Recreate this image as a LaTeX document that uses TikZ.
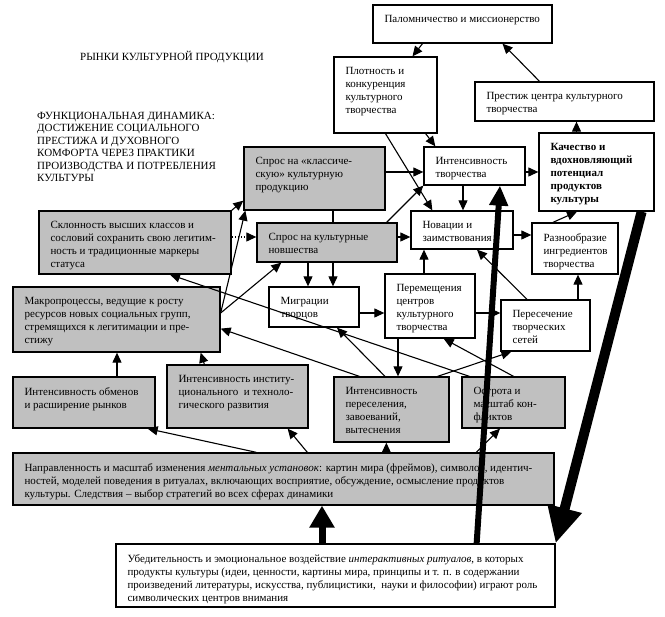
\documentclass[tikz,border=0pt]{standalone}
\usepackage{fontspec}
\setmainfont{Liberation Serif}
\usetikzlibrary{arrows.meta, backgrounds, fit, positioning}
\definecolor{BoxGray}{RGB}{192,192,192}

\begin{document}
\begin{tikzpicture}[x = 1pt, y = -1pt]%
    %
    \tikzstyle{box} = [draw = black, line width = 1.3pt, inner sep = 0pt, fill = white]%
    \tikzstyle{graybox} = [box, fill = BoxGray]%
    \tikzstyle{txt} = [align = left, inner sep = 0pt, anchor = north west, font = \fontsize{11}{13}\selectfont]%
    \tikzstyle{heading} = [align = left, inner sep = 0pt, font = \fontsize{11}{12.5}\selectfont]%
    \tikzstyle{arrow} = [-{Triangle[length = 10pt, width = 9pt]}, line width = 1.1pt, draw = black]%
    \tikzstyle{dottedarrow} = [arrow, dotted]%
    \tikzstyle{heavyarrow} = [line width = 7pt, draw = black]%
    %
    \def\cbox[#1](#2)(#3)(#4)#5{% Syntax: [style] (name) (north west) (south east) {text}
        \node [#1, fit = {(#3) (#4)}] (#2) {};%
        \node [txt] at ([xshift = 12pt, yshift = -11pt]#2.north west) {#5};%
    }%
    %
    \useasboundingbox (0, 0) rectangle (665, 617);%
    %
    \node [heading, anchor = center] (title) at (172, 57) {РЫНКИ КУЛЬТУРНОЙ ПРОДУКЦИИ};%
    \node [heading, anchor = north west] (func) at (37, 112) {ФУНКЦИОНАЛЬНАЯ ДИНАМИКА:\\ДОСТИЖЕНИЕ СОЦИАЛЬНОГО\\ПРЕСТИЖА И ДУХОВНОГО\\КОМФОРТА ЧЕРЕЗ ПРАКТИКИ\\ПРОИЗВОДСТВА И ПОТРЕБЛЕНИЯ\\КУЛЬТУРЫ};%
    %
    \cbox[box](pal)(373, 5)(552, 43){Паломничество и миссионерство}%
    \cbox[box](plot)(334, 57)(437, 133){Плотность и\\конкуренция\\культурного\\творчества}%
    \cbox[box](prest)(475, 82)(654, 121){Престиж центра культурного\\творчества}%
    \cbox[box](intc)(424, 147)(525, 185){Интенсивность\\творчества}%
    \cbox[box](kach)(539, 133)(654, 211){\textbf{Качество и}\\\textbf{вдохновляющий}\\\textbf{потенциал}\\\textbf{продуктов}\\\textbf{культуры}}%
    \cbox[graybox](sclass)(244, 147)(385, 210){Спрос на «классиче-\\скую» культурную\\продукцию}%
    \cbox[graybox](skl)(39, 211)(231, 274){Склонность высших классов и\\сословий сохранить свою легитим-\\ность и традиционные маркеры\\статуса}%
    \cbox[graybox](snov)(257, 223)(397, 262){Спрос на культурные\\новшества}%
    \cbox[box](nov)(411, 211)(513, 249){Новации и\\заимствования}%
    \cbox[box](razn)(532, 223)(618, 274){Разнообразие\\ингредиентов\\творчества}%
    \cbox[graybox](macro)(13, 287)(220, 352){Макропроцессы, ведущие к росту\\ресурсов новых социальных групп,\\стремящихся к легитимации и пре-\\стижу}%
    \cbox[box](migr)(269, 287)(359, 327){Миграции\\творцов}%
    \cbox[box](perem)(385, 274)(475, 338){Перемещения\\центров\\культурного\\творчества}%
    \cbox[box](peres)(501, 300)(590, 351){Пересечение\\творческих\\сетей}%
    \cbox[graybox](obm)(13, 377)(155, 428){Интенсивность обменов\\и расширение рынков}%
    \cbox[graybox](inst)(167, 365)(308, 428){Интенсивность институ-\\ционального\ \ и техноло-\\гического развития}%
    \cbox[graybox](pers)(334, 377)(449, 442){Интенсивность\\переселения,\\завоеваний,\\вытеснения}%
    \cbox[graybox](ostr)(462, 377)(565, 428){Острота и\\масштаб кон-\\фликтов}%
    \cbox[graybox](napr)(13, 453)(554, 505){Направленность и масштаб изменения \textit{ментальных установок}: картин мира (фреймов), символов, идентич-\\ностей, моделей поведения в ритуалах, включающих восприятие, обсуждение, осмысление продуктов\\культуры. Следствия -- выбор стратегий во всех сферах динамики}%
    \cbox[box](ubed)(116, 544)(555, 607){Убедительность и эмоциональное воздействие \textit{интерактивных ритуалов}, в которых\\продукты культуры (идеи, ценности, картины мира, принципы и т. п. в содержании\\произведений литературы, искусства, публицистики,\ \ науки и философии) играют роль\\символических центров внимания}%
    %
    \begin{scope}[on background layer]%
        \draw [arrow] ([xshift = -40pt]pal.south) -- ([xshift = 27pt]plot.north);%
        \draw [arrow] ([xshift = -25pt]prest.north) -- ([xshift = 40pt]pal.south);%
        \draw [arrow] ([xshift = -20pt]kach.north) -- ([xshift = -20pt]kach.north |- prest.south);%
        \draw [arrow] ([xshift = -12pt]plot.south east) -- ([xshift = 12pt]intc.north west);%
        \draw [arrow] (plot.south) -- ([xshift = 22pt]nov.north west);%
        \draw [arrow] ([yshift = 6.5pt]sclass.east) -- ([yshift = 6.5pt]sclass.east -| intc.west);%
        \draw [arrow] ([xshift = -11.5pt]intc.south) -- ([xshift = -11.5pt]intc.south |- nov.north);%
        \draw [arrow] ([yshift = -6pt]intc.east) -- ([yshift = -6pt]intc.east -| kach.west);%
        \draw [arrow] ([xshift = -11pt]snov.north east) -- (intc.south west);%
        \draw [arrow] ([xshift = 18.5pt]sclass.south) -- ([xshift = 18.5pt]sclass.south |- migr.north);%
        \draw [arrow] ([xshift = -19pt]snov.south) -- ([xshift = -19pt]snov.south |- migr.north);%
        \draw [arrow] ([yshift = 5.5pt]snov.east) -- ([yshift = 5.5pt]snov.east -| nov.west);%
        \draw [dottedarrow] ([yshift = 5.5pt]skl.east) -- ([yshift = 5.5pt]skl.east -| snov.west);%
        \draw [arrow] (skl.north east) -- ([yshift = 10pt]sclass.south west);%
        \draw [arrow] ([yshift = 6.5pt]macro.east) -- ([xshift = 2pt]sclass.south west);%
        \draw [arrow] ([yshift = 6.5pt]macro.east) -- ([xshift = 25pt]snov.south west);%
        \draw [arrow] ([yshift = -6pt]migr.east) -- ([yshift = -6pt]migr.east -| perem.west);%
        \draw [arrow] ([xshift = -6pt]perem.north) -- ([xshift = -6pt]perem.north |- nov.south);%
        \draw [arrow] ([yshift = -7pt]perem.east) -- ([yshift = -7pt]perem.east -| peres.west);%
        \draw [arrow] ([xshift = -18.5pt]peres.north) -- ([xshift = 15pt]nov.south);%
        \draw [arrow] ([xshift = 32.5pt]peres.north) -- ([xshift = 32.5pt]peres.north |- razn.south);%
        \draw [arrow] ([yshift = -5pt]nov.east) -- ([yshift = -5pt]nov.east -| razn.west);%
        \draw [arrow] ([xshift = -22pt]razn.north) -- ([xshift = -19.5pt]kach.south);%
        \draw [arrow] ([xshift = -32pt]perem.south) -- ([xshift = -32pt]perem.south |- pers.north);%
        \draw [arrow] ([xshift = -6.5pt]pers.north) -- ([xshift = 23pt]migr.south);%
        \draw [arrow] ([xshift = 26pt]pers.north west) -- ([yshift = 24pt]macro.south east);%
        \draw [arrow] ([xshift = -12pt]pers.north east) -- ([xshift = 11pt]peres.south west);%
        \draw [arrow] (ostr.north) -- ([xshift = -32pt]perem.south east);%
        \draw [arrow] ([xshift = 33pt]obm.north) -- ([xshift = 33pt]obm.north |- macro.south);%
        \draw [arrow] ([xshift = 38pt]inst.north west) -- ([xshift = -20pt]macro.south east);%
        \draw [arrow] ([xshift = 244pt]napr.north west) -- ([xshift = -8pt]obm.south east);%
        \draw [arrow] ([xshift = 295pt]napr.north west) -- ([xshift = -21pt]inst.south east);%
        \draw [arrow] ([xshift = 374pt]napr.north west) -- ([xshift = 374pt]napr.north west |- pers.south);%
        \draw [arrow] ([xshift = 464pt]napr.north west) -- ([xshift = -13.5pt]ostr.south);%
    \end{scope}%
    %
    \draw [arrow] ([xshift = 8pt]ostr.north west) -- ([xshift = 35pt]skl.south);%
    %
    \draw [heavyarrow, -{Triangle[length = 22pt, width = 24pt]}] ([xshift = -13.5pt]ubed.north) -- ([xshift = -13.5pt]ubed.north |- napr.south);%
    \draw [heavyarrow, line width = 6pt, -{Triangle[length = 20pt, width = 18pt]}] ([xshift = -79pt]ubed.north east) -- ([xshift = 25.5pt]intc.south);%
    \draw [heavyarrow, line width = 10pt, -{Triangle[length = 36pt, width = 33pt]}] ([xshift = -13pt]kach.south east) -- (ubed.north east);%
\end{tikzpicture}
\end{document}
